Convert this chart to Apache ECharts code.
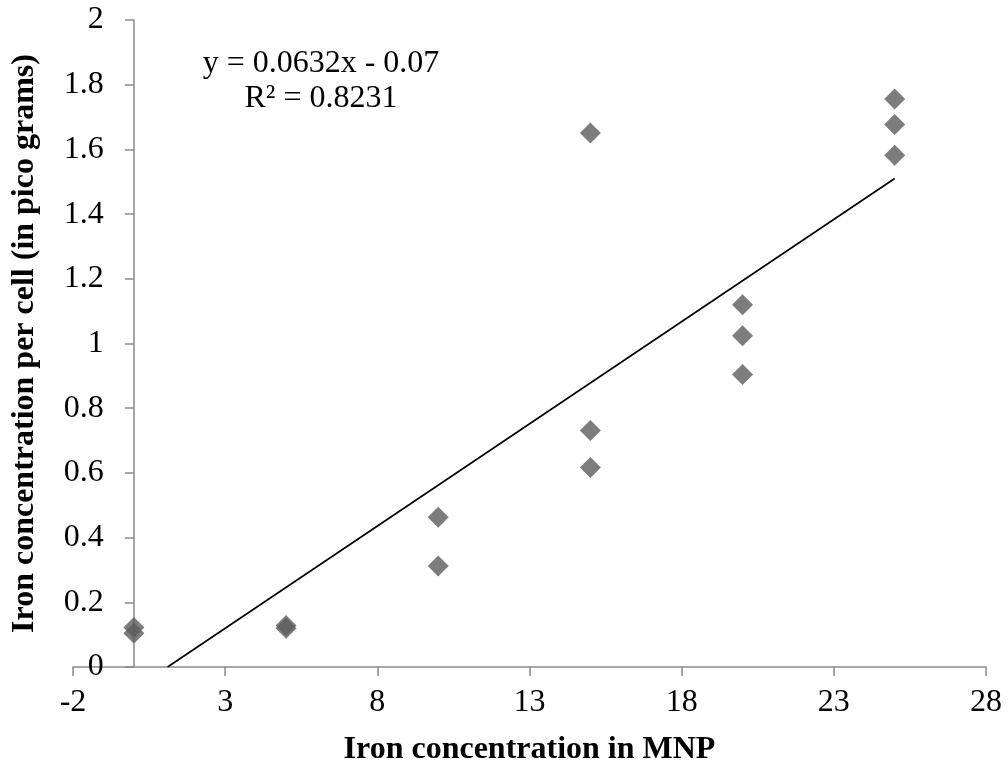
<!DOCTYPE html>
<html>
<head>
<meta charset="utf-8">
<script src="https://cdn.jsdelivr.net/npm/echarts@6/dist/echarts.min.js"></script>
<style>
  html, body { margin: 0; padding: 0; background: #fff; }
  #chart { width: 1008px; height: 768px; }
</style>
</head>
<body>
<div id="chart"></div>
<script>
// Measured iron content per cell for each MNP iron concentration
const mnpConcentration = [0, 0, 5, 5, 10, 10, 15, 15, 15, 20, 20, 20, 25, 25, 25];
const ironPerCell = [0.122, 0.104, 0.128, 0.120, 0.463, 0.312, 1.651, 0.731, 0.617, 1.120, 1.024, 0.904, 1.756, 1.677, 1.582];

// Tick labels on the horizontal axis
const xTickValues = [-2, 3, 8, 13, 18, 23, 28];
const xRange = [-2, 28];

// Linear trend line fitted to the measurements
const trendSlope = 0.0632;
const trendIntercept = -0.07;
const trendXRange = [-trendIntercept / trendSlope, 25];
const equationLines = ['y = 0.0632x - 0.07', 'R² = 0.8231'];

const FONT = "'Liberation Serif', 'Times New Roman', serif";
const AXIS_GRAY = '#8a8a8a';
const W = 1008;
const GRID = { left: 73, right: 22, top: 20, bottom: 101 };

const scatterData = mnpConcentration.map((x, i) => [x, ironPerCell[i]]);
const trendData = trendXRange.map(x => [x, trendSlope * x + trendIntercept]);

// The vertical axis crosses the horizontal one at x = 0, inside the plot area
const plotWidth = W - GRID.left - GRID.right;
const yAxisShift = (0 - xRange[0]) / (xRange[1] - xRange[0]) * plotWidth;

const chart = echarts.init(document.getElementById('chart'));
chart.setOption({
  animation: false,
  backgroundColor: '#ffffff',
  grid: Object.assign({ containLabel: false, outerBoundsMode: 'none' }, GRID),
  xAxis: {
    type: 'value',
    min: xRange[0],
    max: xRange[1],
    name: 'Iron concentration in MNP',
    nameLocation: 'middle',
    nameGap: 67,
    nameTextStyle: { fontFamily: FONT, fontSize: 32, fontWeight: 'bold', color: '#000' },
    axisLine: { show: true, onZero: false, lineStyle: { color: AXIS_GRAY, width: 1.5 } },
    axisTick: { show: true, length: 9, customValues: xTickValues, lineStyle: { color: AXIS_GRAY, width: 1.5 } },
    axisLabel: { customValues: xTickValues, margin: 20, fontFamily: FONT, fontSize: 32, color: '#000' },
    splitLine: { show: false }
  },
  yAxis: {
    type: 'value',
    min: 0,
    max: 2,
    interval: 0.2,
    offset: -yAxisShift,
    name: 'Iron concentration per cell (in pico grams)',
    nameLocation: 'middle',
    nameGap: 93,
    nameTextStyle: { fontFamily: FONT, fontSize: 32, fontWeight: 'bold', color: '#000' },
    axisLine: { show: true, onZero: false, lineStyle: { color: AXIS_GRAY, width: 1.5 } },
    axisTick: { show: true, length: 9, lineStyle: { color: AXIS_GRAY, width: 1.5 } },
    axisLabel: { margin: 30, fontFamily: FONT, fontSize: 32, color: '#000' },
    splitLine: { show: false }
  },
  graphic: [{
    type: 'text',
    x: 321,
    y: 46,
    style: {
      text: equationLines.join('\n'),
      align: 'center',
      verticalAlign: 'top',
      fontFamily: FONT,
      fontSize: 32,
      lineHeight: 35,
      fill: '#000'
    }
  }],
  series: [
    {
      type: 'line',
      data: trendData,
      showSymbol: false,
      lineStyle: { color: '#000', width: 1.6 },
      z: 1
    },
    {
      type: 'scatter',
      data: scatterData,
      symbol: 'diamond',
      symbolSize: 21,
      itemStyle: { color: '#5c5c5c' },
      z: 2
    }
  ]
});
</script>
</body>
</html>
